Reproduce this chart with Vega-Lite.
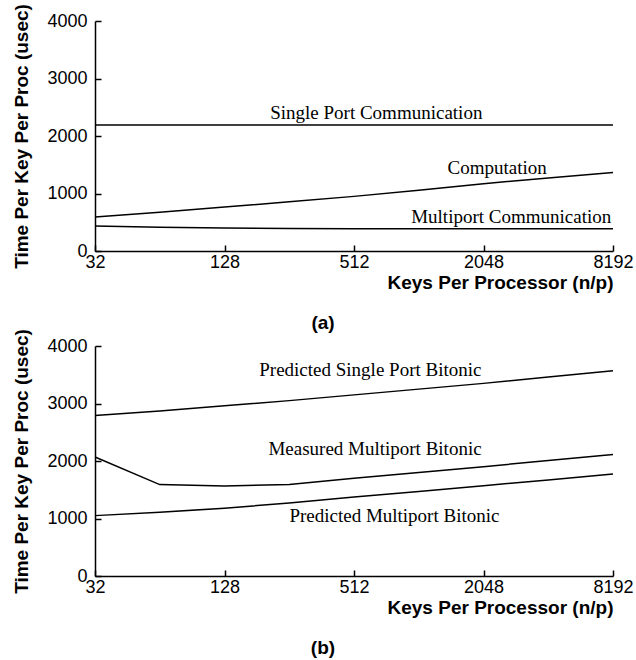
{
  "$schema": "https://vega.github.io/schema/vega-lite/v6.json",
  "background": "white",
  "padding": {"left": 12, "top": 3, "right": 0, "bottom": 0},
  "config": {
    "view": {"stroke": null},
    "axis": {
      "grid": false,
      "domainColor": "black",
      "domainWidth": 1.5,
      "ticks": true,
      "tickColor": "black",
      "tickWidth": 1.5,
      "tickSize": -6,
      "labelColor": "black",
      "titleColor": "black",
      "labelFont": "Liberation Sans",
      "titleFont": "Liberation Sans",
      "labelFontSize": 18,
      "titleFontSize": 19,
      "titleFontWeight": "bold",
      "labelFontWeight": "normal",
      "labelFlush": false,
      "labelOverlap": false
    },
    "axisX": {"labelPadding": 8, "titlePadding": 2, "titleAnchor": "end"},
    "axisY": {"labelPadding": 14, "titlePadding": 15},
    "title": {"font": "Liberation Sans", "fontSize": 19, "fontWeight": "bold", "color": "black"}
  },
  "datasets": {
    "a": [
      {"series": "Single Port Communication", "n": 32, "time": 2190},
      {"series": "Single Port Communication", "n": 64, "time": 2190},
      {"series": "Single Port Communication", "n": 128, "time": 2190},
      {"series": "Single Port Communication", "n": 256, "time": 2190},
      {"series": "Single Port Communication", "n": 512, "time": 2190},
      {"series": "Single Port Communication", "n": 1024, "time": 2190},
      {"series": "Single Port Communication", "n": 2048, "time": 2190},
      {"series": "Single Port Communication", "n": 4096, "time": 2190},
      {"series": "Single Port Communication", "n": 8192, "time": 2190},
      {"series": "Computation", "n": 32, "time": 590},
      {"series": "Computation", "n": 64, "time": 675},
      {"series": "Computation", "n": 128, "time": 765},
      {"series": "Computation", "n": 256, "time": 855},
      {"series": "Computation", "n": 512, "time": 950},
      {"series": "Computation", "n": 1024, "time": 1055},
      {"series": "Computation", "n": 2048, "time": 1170},
      {"series": "Computation", "n": 4096, "time": 1270},
      {"series": "Computation", "n": 8192, "time": 1365},
      {"series": "Multiport Communication", "n": 32, "time": 435},
      {"series": "Multiport Communication", "n": 64, "time": 412},
      {"series": "Multiport Communication", "n": 128, "time": 398},
      {"series": "Multiport Communication", "n": 256, "time": 392},
      {"series": "Multiport Communication", "n": 512, "time": 389},
      {"series": "Multiport Communication", "n": 1024, "time": 387},
      {"series": "Multiport Communication", "n": 2048, "time": 386},
      {"series": "Multiport Communication", "n": 4096, "time": 385},
      {"series": "Multiport Communication", "n": 8192, "time": 385}
    ],
    "b": [
      {"series": "Predicted Single Port Bitonic", "n": 32, "time": 2790},
      {"series": "Predicted Single Port Bitonic", "n": 64, "time": 2870},
      {"series": "Predicted Single Port Bitonic", "n": 128, "time": 2960},
      {"series": "Predicted Single Port Bitonic", "n": 256, "time": 3050},
      {"series": "Predicted Single Port Bitonic", "n": 512, "time": 3150},
      {"series": "Predicted Single Port Bitonic", "n": 1024, "time": 3250},
      {"series": "Predicted Single Port Bitonic", "n": 2048, "time": 3350},
      {"series": "Predicted Single Port Bitonic", "n": 4096, "time": 3460},
      {"series": "Predicted Single Port Bitonic", "n": 8192, "time": 3570},
      {"series": "Measured Multiport Bitonic", "n": 32, "time": 2070},
      {"series": "Measured Multiport Bitonic", "n": 64, "time": 1590},
      {"series": "Measured Multiport Bitonic", "n": 128, "time": 1565},
      {"series": "Measured Multiport Bitonic", "n": 256, "time": 1590},
      {"series": "Measured Multiport Bitonic", "n": 512, "time": 1700},
      {"series": "Measured Multiport Bitonic", "n": 1024, "time": 1800},
      {"series": "Measured Multiport Bitonic", "n": 2048, "time": 1900},
      {"series": "Measured Multiport Bitonic", "n": 4096, "time": 2010},
      {"series": "Measured Multiport Bitonic", "n": 8192, "time": 2115},
      {"series": "Predicted Multiport Bitonic", "n": 32, "time": 1050},
      {"series": "Predicted Multiport Bitonic", "n": 64, "time": 1110},
      {"series": "Predicted Multiport Bitonic", "n": 128, "time": 1180},
      {"series": "Predicted Multiport Bitonic", "n": 256, "time": 1270},
      {"series": "Predicted Multiport Bitonic", "n": 512, "time": 1375},
      {"series": "Predicted Multiport Bitonic", "n": 1024, "time": 1470},
      {"series": "Predicted Multiport Bitonic", "n": 2048, "time": 1570},
      {"series": "Predicted Multiport Bitonic", "n": 4096, "time": 1670},
      {"series": "Predicted Multiport Bitonic", "n": 8192, "time": 1775}
    ],
    "la": [
      {"label": "Single Port Communication", "n": 650, "time": 2400},
      {"label": "Computation", "n": 2372, "time": 1438},
      {"label": "Multiport Communication", "n": 2755, "time": 586}
    ],
    "lb": [
      {"label": "Predicted Single Port Bitonic", "n": 610, "time": 3585},
      {"label": "Measured Multiport Bitonic", "n": 641, "time": 2213},
      {"label": "Predicted Multiport Bitonic", "n": 789, "time": 1048}
    ]
  },
  "bounds": "flush",
  "spacing": 95,
  "vconcat": [
    {
      "width": 518,
      "height": 230,
      "title": {"text": "(a)", "orient": "bottom", "anchor": "middle", "frame": "bounds", "offset": 22},
      "layer": [
        {
          "data": {"name": "a"},
          "mark": {"type": "line", "color": "black", "strokeWidth": 1.5},
          "encoding": {
            "x": {"field": "n", "type": "quantitative", "scale": {"type": "log", "base": 2, "domain": [32, 8192]},
                  "axis": {"values": [32, 128, 512, 2048, 8192], "format": "d", "title": "Keys Per Processor (n/p)"}},
            "y": {"field": "time", "type": "quantitative", "scale": {"domain": [0, 4000]},
                  "axis": {"values": [0, 1000, 2000, 3000, 4000], "format": "d", "title": "Time Per Key Per Proc (usec)"}},
            "detail": {"field": "series"}
          }
        },
        {
          "data": {"name": "la"},
          "mark": {"type": "text", "font": "Liberation Serif", "fontSize": 19, "color": "black", "align": "center", "baseline": "middle"},
          "encoding": {
            "x": {"field": "n", "type": "quantitative"},
            "y": {"field": "time", "type": "quantitative"},
            "text": {"field": "label"}
          }
        }
      ]
    },
    {
      "width": 518,
      "height": 230,
      "title": {"text": "(b)", "orient": "bottom", "anchor": "middle", "frame": "bounds", "offset": 22},
      "layer": [
        {
          "data": {"name": "b"},
          "mark": {"type": "line", "color": "black", "strokeWidth": 1.5},
          "encoding": {
            "x": {"field": "n", "type": "quantitative", "scale": {"type": "log", "base": 2, "domain": [32, 8192]},
                  "axis": {"values": [32, 128, 512, 2048, 8192], "format": "d", "title": "Keys Per Processor (n/p)"}},
            "y": {"field": "time", "type": "quantitative", "scale": {"domain": [0, 4000]},
                  "axis": {"values": [0, 1000, 2000, 3000, 4000], "format": "d", "title": "Time Per Key Per Proc (usec)"}},
            "detail": {"field": "series"}
          }
        },
        {
          "data": {"name": "lb"},
          "mark": {"type": "text", "font": "Liberation Serif", "fontSize": 19, "color": "black", "align": "center", "baseline": "middle"},
          "encoding": {
            "x": {"field": "n", "type": "quantitative"},
            "y": {"field": "time", "type": "quantitative"},
            "text": {"field": "label"}
          }
        }
      ]
    }
  ]
}
